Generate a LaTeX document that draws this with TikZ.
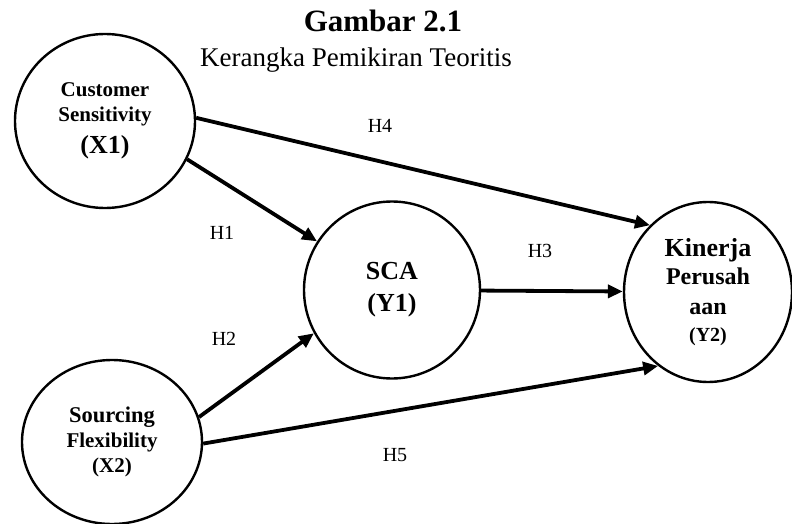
\documentclass[tikz,border=0pt]{standalone}
\usepackage{fontspec}
\setmainfont{Liberation Serif}
\usetikzlibrary{shapes.geometric,arrows.meta}

\begin{document}
\begin{tikzpicture}[x=1pt,y=-1pt,
		var/.style={ellipse, draw, line width=2.4pt, inner sep=0pt, align=center},
		link/.style={line width=3.8pt, -{Triangle[length=15pt,width=13pt]}},
		hyp/.style={font=\fontsize{20}{24}\selectfont}]
		
		\useasboundingbox (0,0) rectangle (792,524);
		
		% Title
		\node[anchor=base, font=\bfseries\fontsize{31}{36}\selectfont] (title) at (383,32) {Gambar 2.1};
		\node[anchor=base, font=\fontsize{27}{32}\selectfont] (subtitle) at (356,67) {Kerangka Pemikiran Teoritis};
		
		% X1
		\node[var, minimum width=180, minimum height=174, font=\bfseries\fontsize{21}{25}\selectfont] (x1) at (105,121)
		{Customer\\Sensitivity\\[7pt]{\fontsize{26}{30}\selectfont (X1)}};
		
		% X2
		\node[var, minimum width=180, minimum height=164, font=\bfseries\fontsize{21}{25}\selectfont] (x2) at (112,442)
		{{\fontsize{22.5}{25}\selectfont Sourcing}\\Flexibility\\(X2)};
		
		% Y1
		\node[var, minimum width=176, minimum height=177, font=\bfseries\fontsize{26}{30}\selectfont] (sca) at (392,290)
		{SCA\\[2pt](Y1)};
		
		% Y2
		\node[var, minimum width=168, minimum height=180, font=\bfseries\fontsize{24}{28}\selectfont] (kin) at (708,292)
		{{\fontsize{26}{28}\selectfont Kinerja}\\Perusah\\[2pt]aan\\[-1pt]{\fontsize{20}{24}\selectfont (Y2)}};
		
		% Arrows
		\draw[link] (x1.2) -- (kin.131);
		\draw[link] (x1.-25) -- (sca.147);
		\draw[link] (x2.16) -- (sca.209);
		\draw[link] (sca) -- (kin);
		\draw[link] (x2.-1) -- (kin.236);
		
		% Labels
		\node[hyp] (h4) at (380,126) {H4};
		\node[hyp] (h1) at (222,233) {H1};
		\node[hyp] (h3) at (540,251) {H3};
		\node[hyp] (h2) at (224,339) {H2};
		\node[hyp] (h5) at (395,455) {H5};
		
	\end{tikzpicture}
\end{document}
